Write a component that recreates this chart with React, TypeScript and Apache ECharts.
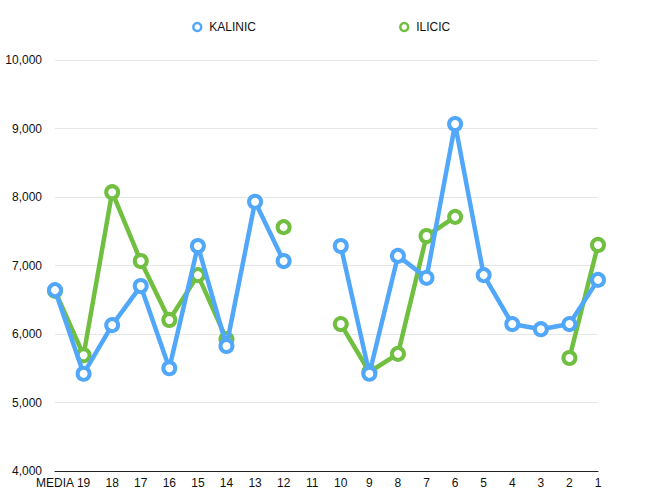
import React, { useEffect, useRef } from "react";
import * as echarts from "echarts";

const categories = ["MEDIA", "19", "18", "17", "16", "15", "14", "13", "12", "11", "10", "9", "8", "7", "6", "5", "4", "3", "2", "1"];
const kalinic: (number | null)[] = [6640, 5420, 6130, 6700, 5500, 7285, 5825, 7930, 7065, null, 7285, 5420, 7140, 6820, 9065, 6860, 6145, 6070, 6145, 6790];
const ilicic: (number | null)[] = [6630, 5690, 8070, 7065, 6205, 6860, 5925, null, 7560, null, 6145, 5445, 5710, 7430, 7710, null, null, null, 5650, 7300];
const seriesNames = ["KALINIC", "ILICIC"];

const BLUE = "#51A7F9";
const GREEN = "#70BF41";
const FONT = "'Liberation Sans', Arial, Helvetica, sans-serif";

export default function App() {
  const ref = useRef<HTMLDivElement>(null);
  useEffect(() => {
    if (!ref.current) return;
    const chart = echarts.init(ref.current, null, { renderer: "svg" });
    const legendBase = {
      orient: "horizontal",
      top: 16,
      itemWidth: 8,
      itemHeight: 8,
      itemGap: 6,
      icon: "circle",
      textStyle: { color: "#111", fontSize: 12, fontFamily: FONT, padding: [0, 0, 0, 3] },
    };
    chart.setOption({
      animation: false,
      backgroundColor: "#fff",
      legend: [
        {
          ...legendBase,
          left: 187,
          data: [{ name: seriesNames[0], itemStyle: { color: "#fff", borderColor: BLUE, borderWidth: 2.5 } }],
        },
        {
          ...legendBase,
          left: 394,
          data: [{ name: seriesNames[1], itemStyle: { color: "#fff", borderColor: GREEN, borderWidth: 2.5 } }],
        },
      ],
      grid: { left: 55, right: 52, top: 60, bottom: 31, containLabel: false },
      xAxis: {
        type: "category",
        data: categories,
        boundaryGap: false,
        axisLine: { show: true, lineStyle: { color: "#222", width: 1.2 } },
        axisTick: { show: false },
        axisLabel: { color: "#111", fontSize: 12, fontFamily: FONT, margin: 6, interval: 0 },
        splitLine: { show: false },
      },
      yAxis: {
        type: "value",
        min: 4000,
        max: 10000,
        interval: 1000,
        axisLine: { show: false },
        axisTick: { show: false },
        axisLabel: {
          color: "#111",
          fontSize: 12,
          fontFamily: FONT,
          margin: 13,
          formatter: (v: number) => v.toLocaleString("en-US"),
        },
        splitLine: { show: true, lineStyle: { color: "#e6e6e6", width: 1 } },
      },
      series: [
        {
          name: seriesNames[0],
          type: "line",
          data: kalinic,
          z: 3,
          symbol: "circle",
          symbolSize: 12,
          showAllSymbol: true,
          connectNulls: false,
          lineStyle: { color: BLUE, width: 4.5 },
          itemStyle: { color: "#fff", borderColor: BLUE, borderWidth: 4 },
        },
        {
          name: seriesNames[1],
          type: "line",
          data: ilicic,
          z: 2,
          symbol: "circle",
          symbolSize: 12,
          showAllSymbol: true,
          connectNulls: false,
          lineStyle: { color: GREEN, width: 4.5 },
          itemStyle: { color: "#fff", borderColor: GREEN, borderWidth: 4 },
        },
      ],
    });
    return () => chart.dispose();
  }, []);
  return <div ref={ref} style={{ position: "absolute", left: 0, top: 0, width: 650, height: 502 }} />;
}
